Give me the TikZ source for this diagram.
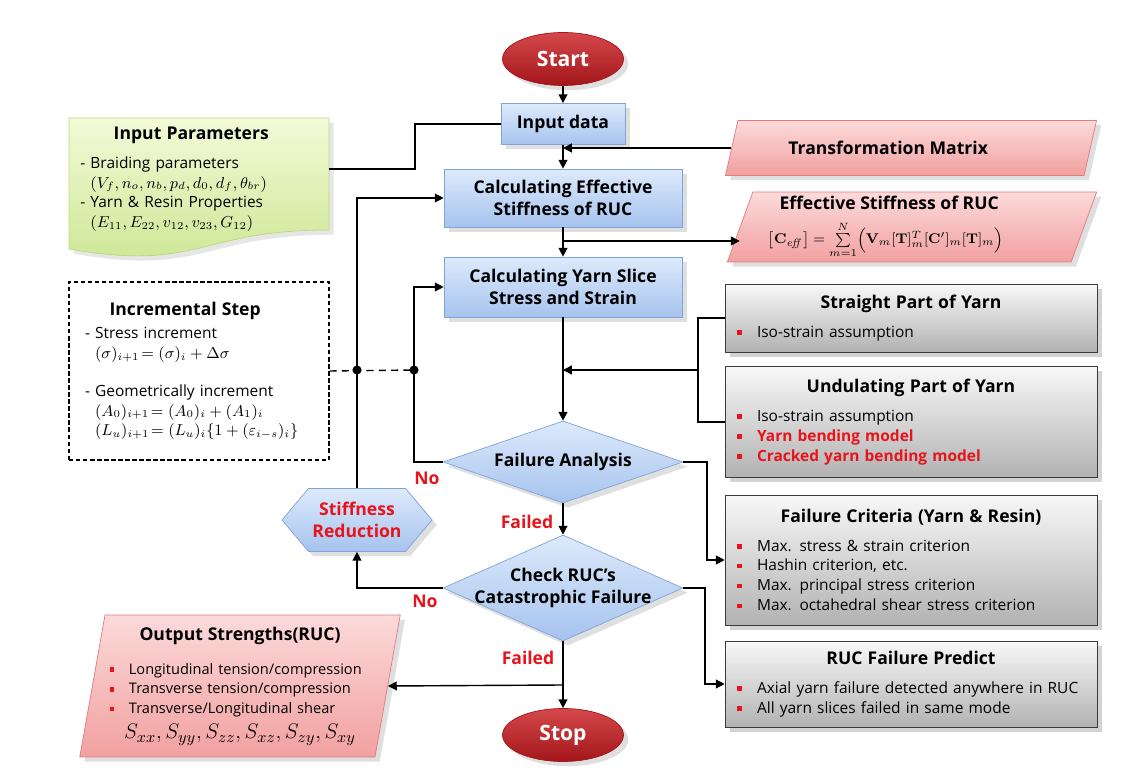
\documentclass[tikz,border=0pt]{standalone}
\usepackage{xcolor}
\usepackage{amsmath}
\usepackage[no-math]{fontspec}
\setmainfont{Open Sans}
\usepackage{tikz}
\usetikzlibrary{shapes.geometric,shapes.symbols}
\usetikzlibrary{arrows.meta,shadows}

\definecolor{blueT}{HTML}{DDEAFB}
\definecolor{blueB}{HTML}{A6C3EE}
\definecolor{blueL}{HTML}{7FA4D8}
\definecolor{pinkT}{HTML}{FCDADA}
\definecolor{pinkB}{HTML}{F2A0A0}
\definecolor{pinkL}{HTML}{E37B7B}
\definecolor{grayT}{HTML}{F8F8F8}
\definecolor{grayB}{HTML}{B2B2B2}
\definecolor{grayL}{HTML}{3A3A3A}
\definecolor{greenT}{HTML}{F3FAD8}
\definecolor{greenB}{HTML}{CBE691}
\definecolor{greenL}{HTML}{BBD883}
\definecolor{termT}{HTML}{D4484B}
\definecolor{termB}{HTML}{A3161A}
\definecolor{redtxt}{HTML}{E8141B}

\newcommand{\bul}{\textcolor{redtxt}{\rule[0.3ex]{0.55ex}{0.55ex}}\hspace{1em}}
\newcommand{\btitle}[1]{\makebox[\hsize]{\fontsize{10}{12}\selectfont\bfseries #1}}

\tikzstyle{body}=[font=\fontsize{8.8}{11.3}\selectfont]
\tikzstyle{bluebox}=[rectangle, draw=blueL, top color=blueT, bottom color=blueB, drop shadow={opacity=0.25}, font=\fontsize{10}{12.5}\selectfont\bfseries, align=center]
\tikzstyle{term}=[ellipse, draw=termB, top color=termT, bottom color=termB, text=white, font=\fontsize{12}{14}\selectfont\bfseries, minimum width=2.42cm, minimum height=1.06cm, drop shadow={opacity=0.25}]
\tikzstyle{dec}=[diamond, aspect=3, draw=blueL, top color=blueT, bottom color=blueB, drop shadow={opacity=0.25}, minimum width=4.8cm, inner sep=0pt, font=\fontsize{10}{12.5}\selectfont\bfseries, align=center]
\tikzstyle{hexa}=[signal, signal to=west and east, signal pointer angle=100, draw=blueL, top color=blueT, bottom color=blueB, drop shadow={opacity=0.25}, minimum width=3cm, minimum height=1.26cm, inner sep=1pt, text=redtxt, font=\fontsize{10}{12.5}\selectfont\bfseries, align=center]
\tikzstyle{para}=[trapezium, trapezium left angle=70, trapezium right angle=110, trapezium stretches=true, draw=pinkL, top color=pinkT, bottom color=pinkB, drop shadow={opacity=0.25}]
\tikzstyle{graybox}=[rectangle, draw=grayL, top color=grayT, bottom color=grayB, drop shadow={opacity=0.35}, minimum width=7.44cm, text width=6.96cm, inner xsep=0.24cm, align=left, body]
\tikzstyle{flow}=[line width=0.8pt, -{Triangle[length=5pt,width=5pt]}]
\tikzstyle{conn}=[line width=0.8pt]
\tikzstyle{lbl}=[text=redtxt, font=\fontsize{10}{12}\selectfont\bfseries]

\begin{document}
\begin{tikzpicture}[x=0.02cm,y=-0.02cm]
\useasboundingbox (0,0) rectangle (1126,776);

% input document shape
\path[draw=greenL, top color=greenT, bottom color=greenB, drop shadow={opacity=0.2}]
(69,118) -- (329,118) -- (329,230) .. controls (199,230) and (199,272) .. (69,249) -- cycle;
\node[anchor=north west, inner sep=0pt, text width=5cm, align=left, body] (inpar) at (80,127)
{\hspace*{19pt}{\fontsize{10}{12}\selectfont\bfseries Input Parameters}\\[4.8pt]
- Braiding parameters\\
\hphantom{- }$(V_f, n_o, n_b, p_d, d_0, d_f, \theta_{br})$\\
- Yarn \& Resin Properties\\
\hphantom{- }$(E_{11}, E_{22}, v_{12}, v_{23}, G_{12})$};

\node[draw, dash pattern=on 2.5pt off 1.5pt, line width=0.7pt, minimum width=5.2cm, minimum height=3.56cm,
text width=4.56cm, inner xsep=0.32cm, align=left, body] (incr) at (199,371)
{\hspace*{14pt}{\fontsize{10}{12}\selectfont\bfseries Incremental Step}\\[2pt]
- Stress increment\\
\hphantom{- }$(\sigma)_{i+1}\!= (\sigma)_i+\Delta\sigma$\\[10pt]
- Geometrically increment\\
\hphantom{- }$(A_0)_{i+1}\!= (A_0)_i+(A_1)_i$\\
\hphantom{- }$(L_u)_{i+1}\!= (L_u)_i\{1+(\varepsilon_{i-s})_i\}$};

\node[term] (start) at (563,59) {Start};
\node[bluebox, minimum width=2.48cm, minimum height=0.82cm] (indata) at (563,124) {Input data};
\node[bluebox, minimum width=4.76cm, minimum height=1.16cm] (effc) at (563,198) {Calculating Effective\\Stiffness of RUC};
\node[bluebox, minimum width=4.76cm, minimum height=1.2cm] (slice) at (563,287) {Calculating Yarn Slice\\Stress and Strain};
\node[dec, minimum height=1.64cm] (fana) at (563,462) {Failure Analysis};
\node[dec, minimum height=2.12cm, label={[font=\fontsize{10}{12.5}\selectfont\bfseries, align=center]center:Check RUC’s\\Catastrophic Failure}] (check) at (563,588) {};
\node[term] (stop) at (563,735) {Stop};
\node[hexa] (stred) at (357,520) {Stiffness\\Reduction};

\node[para, minimum width=7.44cm, minimum height=1.1cm, font=\fontsize{10}{12}\selectfont\bfseries] (transf) at (911,148) {Transformation Matrix\hspace*{2.6em}};
\node[para, minimum width=7.4cm, minimum height=1.4cm, inner ysep=1pt, align=center] (effout) at (912,227)
{{\fontsize{10}{12}\selectfont\bfseries Effective Stiffness of RUC}\hspace*{2.6em}\\[6pt]
{\fontsize{8.5}{10}\selectfont$\left[\mathbf{C}_{\mathit{eff}}\right]=\sum\limits_{m=1}^{N}\Bigl(\mathbf{V}_m[\mathbf{T}]_m^{T}[\mathbf{C}']_m[\mathbf{T}]_m\Bigr)$}\hspace*{3em}};

\node[graybox, minimum height=1.36cm] (straight) at (911,318)
{\btitle{Straight Part of Yarn}\\[5pt]
\bul Iso-strain assumption};
\node[graybox, minimum height=2.22cm] (undul) at (911,422)
{\btitle{Undulating Part of Yarn}\\[5pt]
\bul Iso-strain assumption\\
\bul\textcolor{redtxt}{\bfseries Yarn bending model}\\
\bul\textcolor{redtxt}{\bfseries Cracked yarn bending model}};
\node[graybox, minimum height=2.6cm] (crit) at (911,560)
{\btitle{Failure Criteria (Yarn \& Resin)}\\[5pt]
\bul Max. stress \& strain criterion\\
\bul Hashin criterion, etc.\\
\bul Max. principal stress criterion\\
\bul Max. octahedral shear stress criterion};
\node[graybox, minimum height=1.72cm] (pred) at (911,684)
{\btitle{RUC Failure Predict}\\[5pt]
\bul Axial yarn failure detected anywhere in RUC\\
\bul All yarn slices failed in same mode};

\node[para, trapezium left angle=79, trapezium right angle=101, minimum width=6.4cm, minimum height=2.84cm,
text width=5.2cm, inner xsep=0.1cm, align=left, font=\fontsize{8.3}{11.3}\selectfont] (outs) at (240,686)
{\btitle{Output Strengths(RUC)}\\[8pt]
\bul Longitudinal tension/compression\\
\bul Transverse tension/compression\\
\bul Transverse/Longitudinal shear\\[3pt]
\makebox[\hsize]{\fontsize{13}{15}\selectfont$S_{xx}, S_{yy}, S_{zz}, S_{xz}, S_{zy}, S_{xy}$}};

\node[lbl] (no1) at (427,478) {No};
\node[lbl] (no2) at (425,601) {No};
\node[lbl] (fl1) at (527,522) {Failed};
\node[lbl] (fl2) at (528,658) {Failed};

\coordinate (inparR) at (329,169);
\coordinate (inbend) at (415,124);
\coordinate (effjoin) at (563,241);
\coordinate (ybus) at (698,370);
\coordinate (idot) at (414,370);
\coordinate (odot) at (357,370);
\coordinate (critin) at (707,560);
\coordinate (predin) at (705,684);
\coordinate (outjoin) at (563,685);

\draw[flow] (start) -- (indata);
\draw[flow] (indata) -- (effc);
\draw[flow] (effc) -- (slice);
\draw[flow] (slice) -- (fana);
\draw[flow] (fana) -- (check);
\draw[flow] (check) -- (stop);
\draw[conn] (inparR) -| (inbend) -- (indata.west);
\draw[flow] (transf.west) -- (transf.west -| indata.south);
\draw[flow] (effjoin) -- (effjoin -| effout.west);
\draw[conn] (straight.west) -| (ybus);
\draw[conn] (undul.west) -| (ybus);
\draw[flow] (ybus) -- (ybus -| slice.south);
\draw[flow] (fana.west) -| (idot) |- (slice.west);
\draw[flow] (fana.east) -| (critin) -- (crit.west);
\draw[flow] (check.west) -| (stred.south);
\draw[flow] (stred.north) |- (effc.west);
\draw[flow] (check.east) -| (predin) -- (pred.west);
\draw[flow] (outjoin) -- (outs.east);
\draw[line width=0.8pt, dash pattern=on 4pt off 3pt] (incr.east) -- (idot);
\fill (odot) circle (2.6pt);
\fill (idot) circle (2.6pt);

\end{tikzpicture}
\end{document}
